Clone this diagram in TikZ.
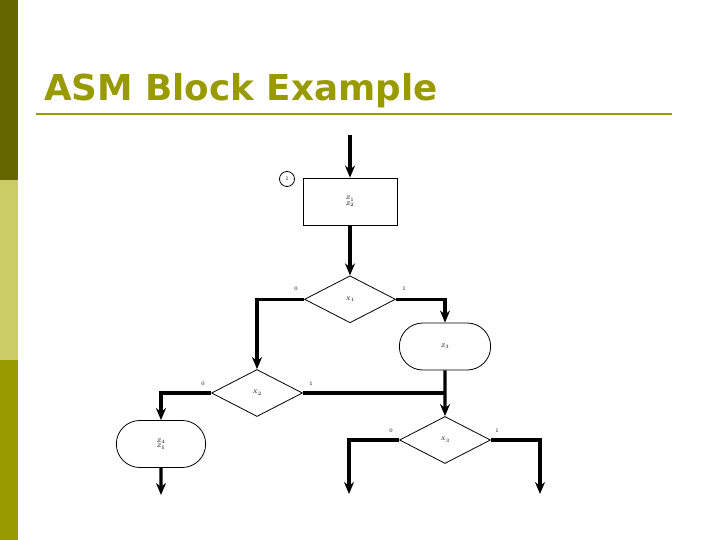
\documentclass[tikz,border=0pt]{standalone}
\usepackage{fontspec}
\usepackage{xcolor}
\usepackage{tikz}
\usetikzlibrary{positioning,arrows.meta,shapes.geometric,shapes.misc}

\newfontfamily\titlefont{DejaVu Sans}
\definecolor{olivedark}{RGB}{102,102,0}
\definecolor{olivelight}{RGB}{204,204,102}
\definecolor{olivemid}{RGB}{153,153,0}

\begin{document}
\begin{tikzpicture}[
      x=1pt, y=-1pt,
      tiny/.style={font=\fontsize{5.5}{6.5}\selectfont},
      statebox/.style={draw, line width=0.8pt, minimum width=94pt, minimum height=47pt, align=center, tiny},
      decision/.style={diamond, draw, line width=0.8pt, inner sep=0pt, minimum width=91pt, minimum height=47pt, tiny},
      condout/.style={rounded rectangle, draw, line width=0.8pt, minimum width=98pt, minimum height=47pt, align=center, tiny},
      flow/.style={line width=3.2pt, -{Stealth[length=12pt, width=10pt]}},
      link/.style={line width=3.2pt}
    ]
    \useasboundingbox (0,0) rectangle (720,540);
    % side bar
    \fill[olivedark] (0,0) rectangle (18,180);
    \fill[olivelight] (0,180) rectangle (18,360);
    \fill[olivemid] (0,360) rectangle (18,540);

    % title
    \node[anchor=base west, inner sep=0pt, text=olivemid, font=\titlefont\bfseries\fontsize{35.7}{40}\selectfont] (title) at (44,101) {ASM Block Example};
    \coordinate (ruleL) at (36,114);
    \coordinate (ruleR) at (672,114);
    \draw[olivemid, line width=2.6pt] (ruleL) -- (ruleR);

    % ASM block
    \node[statebox] (s1) at (350,201.5) {$Z_1$\\[-1pt]$Z_2$};
    \node[circle, draw, line width=0.8pt, minimum size=15pt, inner sep=0pt, tiny] (code) at (287,179) {1};
    \node[decision, below=50pt of s1.south, anchor=north] (d1) {$X_1$};
    \node[condout] (o1) at (445,346.5) {$Z_3$};
    \node[decision] (d2) at (257,393) {$X_2$};
    \node[decision] (d3) at (445,440) {$X_3$};
    \node[condout, minimum width=96pt] (o2) at (161,444) {$Z_4$\\[-1pt]$Z_5$};

    % branch labels
    \node[tiny] at (296,289) {0};
    \node[tiny] at (404,289) {1};
    \node[tiny] at (203,384) {0};
    \node[tiny] at (311,384) {1};
    \node[tiny] at (391,431) {0};
    \node[tiny] at (497,431) {1};

    % free ends
    \coordinate (entry) at (350,135);
    \coordinate (exitA) at (161,495);
    \coordinate (exitB) at (349,494);
    \coordinate (exitC) at (540,494);

    \draw[flow] (entry) -- (s1);
    \draw[flow] (s1) -- (d1);
    \draw[flow] (d1.west) -| (d2.north);
    \draw[flow] (d1.east) -| (o1.north);
    \draw[flow] (o1) -- (d3);
    \draw[link] (d2.east) -- (d2.east -| o1.south);
    \draw[flow] (d2.west) -| (o2.north);
    \draw[flow] (o2) -- (exitA);
    \draw[flow] (d3.west) -| (exitB);
    \draw[flow] (d3.east) -| (exitC);
\end{tikzpicture}
\end{document}
